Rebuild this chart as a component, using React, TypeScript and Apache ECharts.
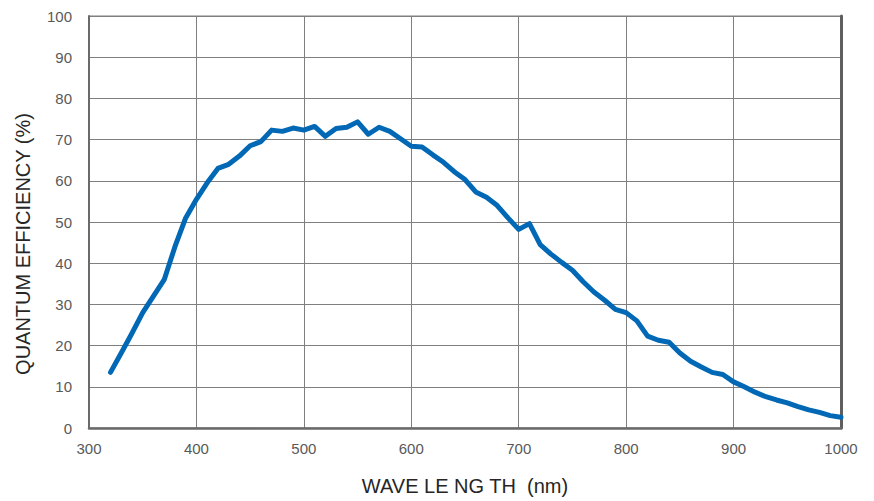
import React, { useEffect, useRef } from "react";
import * as echarts from "echarts";

const wavelengths = [
  320, 330, 340, 350, 360, 370, 380, 390, 400, 410, 420, 430, 440, 450, 460, 470, 480, 490, 500,
  510, 520, 530, 540, 550, 560, 570, 580, 590, 600, 610, 620, 630, 640, 650, 660, 670, 680, 690,
  700, 710, 720, 730, 740, 750, 760, 770, 780, 790, 800, 810, 820, 830, 840, 850, 860, 870, 880,
  890, 900, 910, 920, 930, 940, 950, 960, 970, 980, 990, 1000,
];
const efficiency = [
  13.5, 18.2, 23, 28, 32, 36, 44, 51, 55.5, 59.5, 63, 64, 66, 68.5, 69.5, 72.3, 72, 72.8, 72.3,
  73.2, 70.8, 72.7, 73, 74.3, 71.3, 73, 72, 70.2, 68.4, 68.2, 66.3, 64.5, 62.2, 60.3, 57.3, 56,
  54, 51, 48.2, 49.6, 44.5, 42.2, 40.2, 38.3, 35.5, 33, 31, 28.8, 28, 26, 22.3, 21.3, 20.8, 18.2,
  16.2, 14.8, 13.5, 13, 11.2, 10, 8.7, 7.6, 6.8, 6.1, 5.2, 4.4, 3.8, 3.0, 2.6,
];
const xAxisTitle = "WAVE LE NG TH  (nm)";
const yAxisTitle = "QUANTUM EFFICIENCY (%)";

const FONT = "'Liberation Sans', Arial, sans-serif";

export default function App() {
  const ref = useRef<HTMLDivElement>(null);
  useEffect(() => {
    if (!ref.current) return;
    const chart = echarts.init(ref.current, undefined, { renderer: "svg" });
    chart.setOption({
      animation: false,
      backgroundColor: "#ffffff",
      grid: { left: 89, right: 33, top: 16, bottom: 71, show: true, borderColor: "#7f7f7f", borderWidth: 1 },
      xAxis: {
        type: "value",
        min: 300,
        max: 1000,
        interval: 100,
        name: xAxisTitle,
        nameLocation: "middle",
        nameGap: 48,
        nameTextStyle: { fontFamily: FONT, fontSize: 20, color: "#262626" },
        axisLine: { show: true, lineStyle: { color: "#6a6a6a", width: 2.5 } },
        axisTick: { show: false },
        axisLabel: { fontFamily: FONT, fontSize: 15, color: "#595959", margin: 13, formatter: (v: number) => String(v) },
        splitLine: { show: true, lineStyle: { color: "#7f7f7f", width: 1 } },
      },
      yAxis: [
        {
          type: "value",
          min: 0,
          max: 100,
          interval: 10,
          name: yAxisTitle,
          nameLocation: "middle",
          nameRotate: 90,
          nameGap: 56,
          nameTextStyle: { fontFamily: FONT, fontSize: 20, color: "#262626", padding: [0, 44, 0, 0] },
          axisLine: { show: true, lineStyle: { color: "#6a6a6a", width: 2 } },
          axisTick: { show: false },
          axisLabel: { fontFamily: FONT, fontSize: 15, color: "#595959", margin: 17, formatter: (v: number) => String(v) },
          splitLine: { show: true, lineStyle: { color: "#7f7f7f", width: 1 } },
        },
        {
          type: "value",
          min: 0,
          max: 100,
          interval: 10,
          position: "right",
          axisLine: { show: true, lineStyle: { color: "#5f5f5f", width: 3 } },
          axisTick: { show: false },
          axisLabel: { show: false },
          splitLine: { show: false },
        },
      ],
      series: [
        {
          type: "line",
          data: wavelengths.map((w, i) => [w, efficiency[i]]),
          showSymbol: false,
          lineStyle: { color: "#0068b5", width: 5, cap: "round", join: "round" },
          itemStyle: { color: "#0068b5" },
          z: 5,
        },
      ],
    });
    return () => chart.dispose();
  }, []);
  return <div ref={ref} style={{ width: 874, height: 501, position: "absolute", left: 0, top: 0 }} />;
}
